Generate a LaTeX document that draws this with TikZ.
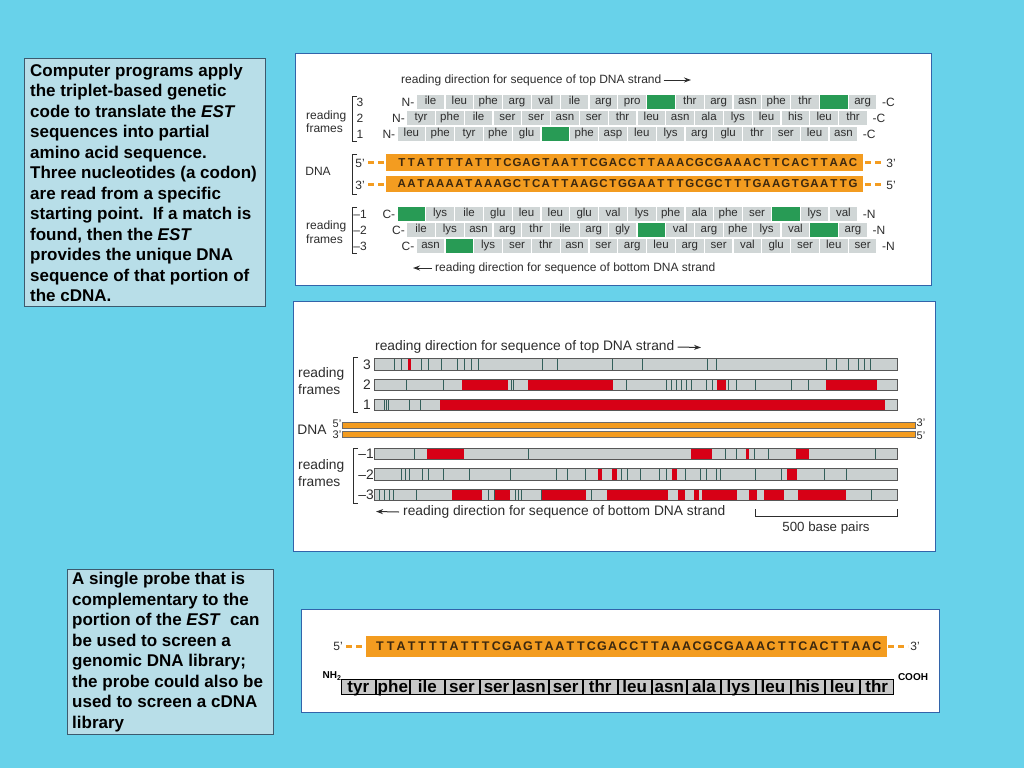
\documentclass[tikz,border=0pt]{standalone}
\usepackage{fontspec}
\setmainfont{Liberation Sans}
\usepackage{ifthen}
\usetikzlibrary{arrows.meta}

\definecolor{slidebg}{RGB}{104,210,234}
\definecolor{notefill}{RGB}{184,222,232}
\definecolor{noteline}{RGB}{60,90,110}
\definecolor{panelline}{RGB}{50,100,170}
\definecolor{dnaorange}{RGB}{243,156,32}
\definecolor{cellgray}{RGB}{208,214,214}
\definecolor{stopgreen}{RGB}{40,155,85}
\definecolor{orfred}{RGB}{215,0,22}
\definecolor{bargray}{RGB}{202,208,208}
\definecolor{stopteal}{RGB}{50,95,90}
\definecolor{figtext}{RGB}{45,45,45}
\definecolor{basebrown}{RGB}{60,40,15}
\definecolor{probegray}{RGB}{200,200,200}

\tikzset{
  note/.style={draw=noteline, fill=notefill, line width=0.8pt},
  notetext/.style={anchor=north west, inner sep=0pt, align=left,
    font=\fontsize{17}{20.5}\selectfont\bfseries},
  panel/.style={draw=panelline, fill=white, line width=1pt},
  lbl/.style={text=figtext, inner sep=0pt, font=\fontsize{12}{12}\selectfont},
  biglbl/.style={text=figtext, inner sep=0pt, font=\fontsize{13.8}{14}\selectfont},
  aacell/.style={fill=cellgray, minimum width=27.6pt, minimum height=14pt,
    inner sep=0pt, text height=8pt, text depth=2.5pt, text=figtext,
    font=\fontsize{11.5}{12}\selectfont},
  stopcell/.style={aacell, fill=stopgreen},
  base/.style={inner sep=0pt, text=basebrown, font=\fontsize{11.5}{12}\selectfont\bfseries},
  probebase/.style={base, font=\fontsize{12.5}{13}\selectfont\bfseries},
  enddash/.style={draw=dnaorange, line width=3pt, dash pattern=on 6pt off 4pt},
  bracket/.style={draw=figtext, line width=0.8pt},
  dirarrow/.style={draw=figtext, line width=1pt, -{Stealth[length=7pt,width=5pt]}},
  orfbox/.style={fill=bargray, minimum width=522pt, minimum height=11pt, inner sep=0pt},
  barline/.style={draw=figtext!80, line width=0.7pt},
  stopline/.style={draw=stopteal, line width=0.8pt},
  orfstretch/.style={fill=orfred},
  probecell/.style={draw=black, fill=probegray, minimum width=33.6pt, minimum height=15pt,
    inner sep=0pt, text height=12.8pt, text depth=2.2pt,
    font=\fontsize{17}{17}\selectfont\bfseries},
  endlbl/.style={inner sep=0pt, font=\fontsize{10}{10}\selectfont\bfseries}
}

\newcommand{\topstrand}{T,T,A,T,T,T,T,A,T,T,T,C,G,A,G,T,A,A,T,T,C,G,A,C,C,T,T,A,A,A,C,G,C,G,A,A,A,C,T,T,C,A,C,T,T,A,A,C}
\newcommand{\botstrand}{A,A,T,A,A,A,A,T,A,A,A,G,C,T,C,A,T,T,A,A,G,C,T,G,G,A,A,T,T,T,G,C,G,C,T,T,T,G,A,A,G,T,G,A,A,T,T,G}

% one row of codons: name, left x, y, residues (* = stop)
\newcommand{\aarow}[4]{%
  \foreach \res [count=\i] in {#4} {
    \ifthenelse{\equal{\res}{*}}
      {\node[stopcell] (#1-\i) at ({#2+28.8*(\i-0.5)},#3) {};}
      {\node[aacell] (#1-\i) at ({#2+28.8*(\i-0.5)},#3) {\res};}
  }}

% one open reading frame bar: name, y, red stretches, stop lines
\newcommand{\orfbar}[4]{%
  \node[orfbox] (#1) at (636,#2) {};
  \foreach \a/\b in {#3} \fill[orfstretch] (\a,#2-5.5) rectangle (\b,#2+5.5);
  \foreach \s in {#4} \draw[stopline] (\s,#2-5.5) -- (\s,#2+5.5);
  \draw[barline] (#1.north west) rectangle (#1.south east);
}

\begin{document}
\begin{tikzpicture}[x=1pt,y=-1pt]
  \fill[slidebg] (0,0) rectangle (1024,768);
  \useasboundingbox (0,0) rectangle (1024,768);

  %% notes
  \draw[note] (24,58) rectangle (265,306);
  \node[notetext] (note1) at (30,63.5) {Computer programs apply\\
    the triplet-based genetic\\
    code to translate the \textit{EST}\\
    sequences into partial\\
    amino acid sequence.\\
    Three nucleotides (a codon)\\
    are read from a specific\\
    starting point.\ \ If a match is\\
    found, then the \textit{EST}\\
    provides the unique DNA\\
    sequence of that portion of\\
    the cDNA.};
  \draw[note] (67,569) rectangle (273,734);
  \node[notetext] (note2) at (72,572) {A single probe that is\\
    complementary to the\\
    portion of the \textit{EST}\ \ can\\
    be used to screen a\\
    genomic DNA library;\\
    the probe could also be\\
    used to screen a cDNA\\
    library};

  %% top panel: codons
  \draw[panel] (295,54) rectangle (931,285);
  \node[lbl, anchor=west] (tophdr) at (401,80) {reading direction for sequence of top DNA strand};
  \coordinate (tophead) at (691,80);
  \draw[dirarrow] ([xshift=2pt]tophdr.east) -- (tophead);

  \node[lbl, anchor=west] (rfA) at (306,116.5) {reading};
  \node[lbl, anchor=west] (rfB) at (306,128.5) {frames};
  \draw[bracket] (357,96) -- (352,96) -- (352,141) -- (357,141);
  \node[lbl] (n3) at (360,102) {3};
  \node[lbl] (n2) at (360,118) {2};
  \node[lbl] (n1) at (360,134) {1};

  \aarow{f3}{416.2}{102}{ile,leu,phe,arg,val,ile,arg,pro,*,thr,arg,asn,phe,thr,*,arg}
  \aarow{f2}{406.6}{118}{tyr,phe,ile,ser,ser,asn,ser,thr,leu,asn,ala,lys,leu,his,leu,thr}
  \aarow{f1}{397}{134}{leu,phe,tyr,phe,glu,*,phe,asp,leu,lys,arg,glu,thr,ser,leu,asn}
  \node[lbl, anchor=east] at (f3-1.west) {N-\,};
  \node[lbl, anchor=east] at (f2-1.west) {N-\,};
  \node[lbl, anchor=east] at (f1-1.west) {N-\,};
  \node[lbl, anchor=west] at (f3-16.east) {\ \,-C};
  \node[lbl, anchor=west] at (f2-16.east) {\ \,-C};
  \node[lbl, anchor=west] at (f1-16.east) {\ \,-C};

  %% top panel: DNA
  \node[lbl] (dnaA) at (318,171) {DNA};
  \draw[bracket] (357,154) -- (352,154) -- (352,194) -- (357,194);
  \fill[dnaorange] (386,154) rectangle (863,171);
  \fill[dnaorange] (386,176) rectangle (863,192);
  \foreach \b [count=\i] in \topstrand
    \node[base] (top-\i) at ({397+9.6*(\i-0.5)},162.5) {\b};
  \foreach \b [count=\i] in \botstrand
    \node[base] (bot-\i) at ({397+9.6*(\i-0.5)},184) {\b};
  \node[lbl] (p5a) at (360,163) {5’};
  \node[lbl] (p3a) at (360,185) {3’};
  \draw[enddash] (368,162.5) -- (386,162.5);
  \draw[enddash] (368,184) -- (386,184);
  \draw[enddash] (865,162.5) -- (884,162.5);
  \draw[enddash] (865,184) -- (884,184);
  \node[lbl] (p3b) at (891,163) {3’};
  \node[lbl] (p5b) at (891,185) {5’};

  %% top panel: reverse frames
  \node[lbl, anchor=west] (rfC) at (306,226.5) {reading};
  \node[lbl, anchor=west] (rfD) at (306,239.5) {frames};
  \draw[bracket] (357,207) -- (352,207) -- (352,253) -- (357,253);
  \node[lbl] (m1) at (360,214) {–1};
  \node[lbl] (m2) at (360,230) {–2};
  \node[lbl] (m3) at (360,246) {–3};

  \aarow{r1}{397}{214}{*,lys,ile,glu,leu,leu,glu,val,lys,phe,ala,phe,ser,*,lys,val}
  \aarow{r2}{406.6}{230}{ile,lys,asn,arg,thr,ile,arg,gly,*,val,arg,phe,lys,val,*,arg}
  \aarow{r3}{416.2}{246}{asn,*,lys,ser,thr,asn,ser,arg,leu,arg,ser,val,glu,ser,leu,ser}
  \node[lbl, anchor=east] at (r1-1.west) {C-\,};
  \node[lbl, anchor=east] at (r2-1.west) {C-\,};
  \node[lbl, anchor=east] at (r3-1.west) {C-\,};
  \node[lbl, anchor=west] at (r1-16.east) {\ \,-N};
  \node[lbl, anchor=west] at (r2-16.east) {\ \,-N};
  \node[lbl, anchor=west] at (r3-16.east) {\ \,-N};

  \node[lbl, anchor=west] (bothdr) at (435,268) {reading direction for sequence of bottom DNA strand};
  \coordinate (bothead) at (413,268);
  \draw[dirarrow] ([xshift=-3pt]bothdr.west) -- (bothead);

  %% middle panel: open reading frames
  \draw[panel] (293,301) rectangle (935,551);
  \node[biglbl, anchor=west] (orfhdr) at (375,347) {reading direction for sequence of top DNA strand};
  \coordinate (orfhead) at (701,347.5);
  \draw[dirarrow] ([xshift=3pt]orfhdr.east) -- (orfhead);

  \node[biglbl, anchor=west] (rfE) at (298,374) {reading};
  \node[biglbl, anchor=west] (rfF) at (298,389.5) {frames};
  \draw[bracket] (358,357) -- (353,357) -- (353,412) -- (358,412);
  \node[biglbl] (k3) at (367,364.5) {3};
  \node[biglbl] (k2) at (367,385) {2};
  \node[biglbl] (k1) at (367,405) {1};

  \orfbar{orf3}{364.5}{407.5/410.5}
    {394.7,401.3,421.3,428,441.3,457,464.7,471.3,478.7,542.3,557,612.7,642.7,707.3,716.7,826.7,836,848.3,858.3,864.3,870}
  \orfbar{orf2}{385}{462/508,528/613.3,716.7/726,826/876.7}
    {406.3,443.7,511.3,513.7,626.7,666.7,671.7,676.7,681.7,686.7,691.7,706.7,712.7,728.3,736.7,755,791.7,808.3}
  \orfbar{orf1}{405}{440.3/885}{384,386,388,409.7,420.3}

  \node[biglbl] (dnaB) at (312,430) {DNA};
  \node[lbl, font=\fontsize{11}{11}\selectfont] (q5a) at (337,424) {5’};
  \node[lbl, font=\fontsize{11}{11}\selectfont] (q3a) at (337,435) {3’};
  \draw[draw=figtext!70, fill=dnaorange, line width=0.6pt] (342,422) rectangle (915,428);
  \draw[draw=figtext!70, fill=dnaorange, line width=0.6pt] (342,431) rectangle (915,437);
  \node[lbl, font=\fontsize{11}{11}\selectfont] (q3b) at (921,423) {3’};
  \node[lbl, font=\fontsize{11}{11}\selectfont] (q5b) at (921,436) {5’};

  \node[biglbl, anchor=west] (rfG) at (298,466) {reading};
  \node[biglbl, anchor=west] (rfH) at (298,481.5) {frames};
  \draw[bracket] (358,448) -- (353,448) -- (353,503) -- (358,503);
  \node[biglbl] (j1) at (366,454) {–1};
  \node[biglbl] (j2) at (366,474.5) {–2};
  \node[biglbl] (j3) at (366,495) {–3};

  \orfbar{orfm1}{454}{427.3/463.7,690.7/712.3,745.7/749,795.7/809.3}
    {414.7,528,725.7,736,754,768.3,875}
  \orfbar{orfm2}{474.5}{598/601.7,611.5/617.3,671.7/676.7,787.3/796.7}
    {401.3,405.7,409.7,422.3,428,443.7,469.7,510.3,556.3,567,585.7,621.7,627.7,640.7,659.3,666.7,685,700,706.7,716.7,720,755,781.7,824,846.7}
  \orfbar{orfm3}{495}{452.3/482.3,495.3/510.3,542.3/586.3,607/668.3,678.3/685,694/699,701.7/736.7,749.3/756.7,764/784,798.3/846}
    {379,384.7,389.7,393.7,416.3,488,494,515.7,518.7,521.3,541.3,591.3,871.7}

  \node[biglbl, anchor=west] (orfhdr2) at (403,512) {reading direction for sequence of bottom DNA strand};
  \coordinate (orfhead2) at (376,511.5);
  \draw[dirarrow] ([xshift=-4pt]orfhdr2.west) -- (orfhead2);

  \draw[bracket] (755,509) -- (755,516) -- (897,516) -- (897,509);
  \node[biglbl, font=\fontsize{13.3}{14}\selectfont] (scale) at (826,528) {500 base pairs};

  %% bottom panel: probe and its peptide
  \draw[panel] (301,609) rectangle (939,712);
  \fill[dnaorange] (366,636) rectangle (887,657);
  \foreach \b [count=\i] in \topstrand
    \node[probebase] (pr-\i) at ({380+10.574*(\i-1)},646.5) {\b};
  \node[lbl] (s5) at (338,646.5) {5’};
  \draw[enddash] (346,646.5) -- (366,646.5);
  \draw[enddash] (888,646.5) -- (908,646.5);
  \node[lbl] (s3) at (915,646.5) {3’};

  \foreach \res [count=\i] in {tyr,phe,ile,ser,ser,asn,ser,thr,leu,asn,ala,lys,leu,his,leu,thr}
    \node[probecell] (pep-\i) at ({341+34.56*(\i-0.5)},687) {\res};
  \node[endlbl] (nh) at (332,676) {NH\textsubscript{2}};
  \node[endlbl] (cooh) at (913,677) {COOH};
\end{tikzpicture}
\end{document}
